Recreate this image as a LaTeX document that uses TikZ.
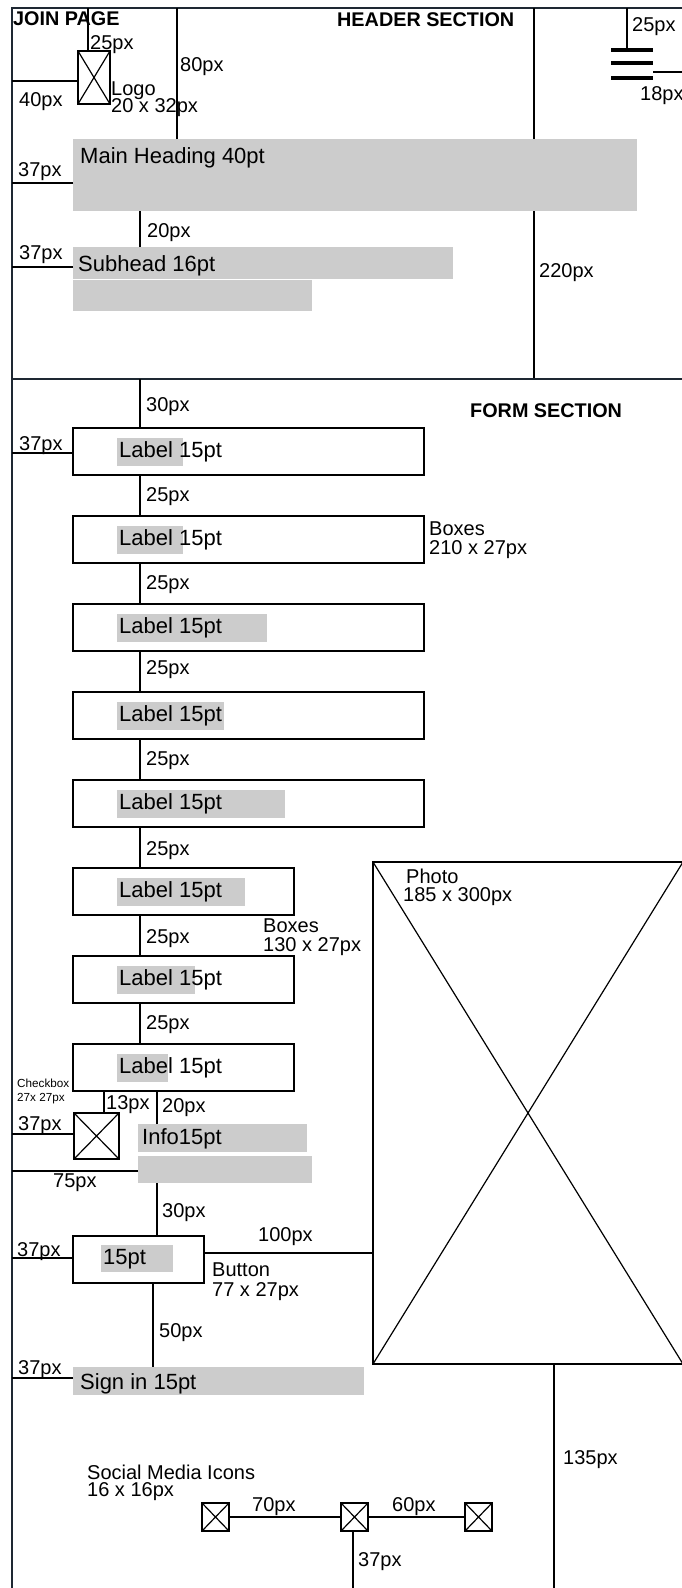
\documentclass[tikz,border=0pt]{standalone}
\usepackage{fontspec}
\setmainfont{Liberation Sans}
\definecolor{framecol}{HTML}{1E2832}
\definecolor{greyc}{HTML}{CCCCCC}
\tikzset{
 frameline/.style={draw=framecol, line width=2.5pt},
 dim/.style={draw=black, line width=1.4pt},
 boxst/.style={draw=black, line width=1.8pt, rectangle, inner sep=0pt, outer sep=0pt, anchor=north west},
 greybox/.style={fill=greyc, draw=none, rectangle, inner sep=0pt, outer sep=0pt, anchor=north west},
 dt/.style={inner sep=0pt, anchor=base west, font=\fontsize{20}{24}\selectfont},
 lt/.style={inner sep=0pt, anchor=base west, font=\fontsize{22}{26}\selectfont},
 ht/.style={inner sep=0pt, anchor=base west, font=\fontsize{19.8}{24}\selectfont\bfseries},
 st/.style={inner sep=0pt, anchor=base west, font=\fontsize{11.7}{14}\selectfont},
 xbox/.style={boxst, path picture={\draw[line width=1.2pt] (path picture bounding box.north west) -- (path picture bounding box.south east) (path picture bounding box.north east) -- (path picture bounding box.south west);}},
 hamb/.style={draw=black, line width=3.5pt},
}
\begin{document}
\begin{tikzpicture}[x=1pt,y=-1pt]
\useasboundingbox (0,0) rectangle (682,1588);
\fill[white] (0,0) rectangle (682,1588);
% frame
\coordinate (TL) at (12,8);
\coordinate (BL) at (12,1590);
\coordinate (TR) at (684,8);
\draw[frameline] (BL) -- (TL) -- (TR);
\coordinate (SL) at (12,379);
\coordinate (SR) at (684,379);
% ---------------- HEADER ----------------
\node[ht] (join) at (13,25) {JOIN PAGE};
\node[ht] (hsec) at (337,26) {HEADER SECTION};
% line behind main heading
\coordinate (v534t) at (534,8);
\coordinate (v534b) at (534,379);
\draw[dim] (v534t) -- (v534b);
\node[dt] (d220) at (539,277) {220px};
% logo
\node[xbox, minimum width=32pt, minimum height=53pt] (logo) at (78,51) {};
\coordinate (lg1) at ([xshift=10pt]logo.north west);
\draw[dim] (lg1) -- (lg1 |- TL);
\node[dt] (d25a) at (90,49) {25px};
\coordinate (lg2) at ([yshift=-30pt]logo.north west);
\draw[dim] (lg2) -- (lg2 -| TL);
\node[dt] (d40) at (19,106) {40px};
\node[dt] (logot) at (111,95) {Logo};
\node[dt] (logos) at (111,112) {20 x 32px};
% main heading
\node[greybox, minimum width=564pt, minimum height=72pt] (mh) at (73,139) {};
\coordinate (mh1) at ([xshift=104pt]mh.north west);
\draw[dim] (mh1) -- (mh1 |- TL);
\node[dt] (d80) at (180,71) {80px};
\node[lt] (mht) at (80,163) {Main Heading 40pt};
\coordinate (mh2) at ([yshift=-44pt]mh.north west);
\draw[dim] (mh2) -- (mh2 -| TL);
\node[dt] (d37a) at (18,176) {37px};
% subhead
\node[greybox, minimum width=380pt, minimum height=32pt] (sh) at (73,247) {};
\node[greybox, minimum width=239pt, minimum height=31pt] (sh2) at (73,280) {};
\coordinate (sh1) at ([xshift=67pt]sh.north west);
\draw[dim] (sh1) -- (sh1 |- mh.south);
\node[dt] (d20a) at (147,237) {20px};
\node[lt] (sht) at (78,271) {Subhead 16pt};
\coordinate (sh3) at ([yshift=-20pt]sh.north west);
\draw[dim] (sh3) -- (sh3 -| TL);
\node[dt] (d37b) at (19,259) {37px};
% hamburger
\draw[hamb] (611,50) coordinate (hb1) -- (653,50);
\draw[hamb] (611,63) coordinate (hb2) -- (653,63);
\draw[hamb] (611,78) coordinate (hb3) -- (653,78) coordinate (hb4);
\coordinate (hbt) at (627,50);
\draw[dim] (hbt) -- (hbt |- TL);
\node[dt] (d25b) at (632,31) {25px};
\coordinate (hbr) at (653,72);
\coordinate (hbe) at (684,72);
\draw[dim] (hbr) -- (hbe);
\node[dt] (d18) at (640,100) {18px};
% section divider
\draw[frameline] (SL) -- (SR);
% ---------------- FORM ----------------
\node[ht] (fsec) at (470,417) {FORM SECTION};
\foreach \i/\w/\gw in {1/351/66, 2/351/66, 3/351/150, 4/351/107, 5/351/168, 6/221/128, 7/221/78, 8/221/51} {
  \pgfmathsetmacro\yy{428+88*(\i-1)}
  \node[boxst, minimum width=\w pt, minimum height=47pt] (b\i) at (73,\yy) {};
  \node[greybox, minimum width=\gw pt, minimum height=28pt] (g\i) at (117,{\yy+10}) {};
  \node[lt] (l\i) at (119,{\yy+29}) {Label 15pt};
}
\coordinate (b0) at (140,379);
\draw[dim] (b0) -- ([xshift=67pt]b1.north west);
\node[dt] (d30a) at (146,411) {30px};
\coordinate (b1l) at ([yshift=-25pt]b1.north west);
\draw[dim] (b1l) -- (b1l -| TL);
\node[dt] (d37c) at (19,450) {37px};
\foreach \i/\j/\o in {1/2/26, 2/3/26, 3/4/23, 4/5/26, 5/6/28, 6/7/28, 7/8/26} {
  \draw[dim] ([xshift=67pt]b\i.south west) -- ([xshift=67pt]b\j.north west);
  \node[dt] (gap\i) at ([xshift=73pt, yshift=-\o pt]b\i.south west) {25px};
}
\node[dt] (bx1) at (429,535) {Boxes};
\node[dt] (bx1s) at (429,554) {210 x 27px};
\node[dt] (bx2) at (263,932) {Boxes};
\node[dt] (bx2s) at (263,951) {130 x 27px};
% photo
\node[xbox, minimum width=310pt, minimum height=502pt] (photo) at (373,862) {};
\node[dt] (pht) at (406,883) {Photo};
\node[dt] (phs) at (403,901) {185 x 300px};
% checkbox
\node[st] (cbt) at (17,1087) {Checkbox};
\node[st] (cbs) at (17,1101) {27x 27px};
\node[xbox, minimum width=45pt, minimum height=46pt] (cb) at (74,1113) {};
\coordinate (cb1) at ([xshift=30pt]cb.north west);
\draw[dim] (cb1) -- (cb1 |- b8.south);
\node[dt] (d13) at (106,1109) {13px};
\coordinate (cb2) at ([yshift=-21pt]cb.north west);
\draw[dim] (cb2) -- (cb2 -| TL);
\node[dt] (d37d) at (18,1130) {37px};
% info
\node[greybox, minimum width=169pt, minimum height=28pt] (info) at (138,1124) {};
\node[greybox, minimum width=174pt, minimum height=27pt] (info2) at (138,1156) {};
\node[lt] (infot) at (142,1144) {Info15pt};
\coordinate (in1) at ([xshift=19pt]info.north west);
\draw[dim] (in1) -- (in1 |- b8.south);
\node[dt] (d20b) at (162,1112) {20px};
\coordinate (in2) at ([yshift=-15pt]info2.north west);
\draw[dim] (in2) -- (in2 -| TL);
\node[dt] (d75) at (53,1187) {75px};
% button
\node[boxst, minimum width=131pt, minimum height=47pt] (btn) at (73,1236) {};
\node[greybox, minimum width=72pt, minimum height=27pt] (btng) at (101,1245) {};
\node[lt] (btnt) at (103,1264) {15pt};
\coordinate (in3) at ([xshift=19pt]info2.south west);
\draw[dim] (in3) -- (in3 |- btn.north);
\node[dt] (d30b) at (162,1217) {30px};
\coordinate (bt1) at ([yshift=-17pt]btn.north east);
\draw[dim] (bt1) -- (bt1 -| photo.west);
\node[dt] (d100) at (258,1241) {100px};
\coordinate (bt2) at ([yshift=-22pt]btn.north west);
\draw[dim] (bt2) -- (bt2 -| TL);
\node[dt] (d37e) at (17,1256) {37px};
\node[dt] (btnl) at (212,1276) {Button};
\node[dt] (btns) at (212,1296) {77 x 27px};
% sign in
\node[greybox, minimum width=291pt, minimum height=28pt] (sign) at (73,1367) {};
\node[lt] (signt) at (80,1389) {Sign in 15pt};
\coordinate (bt3) at ([xshift=80pt]btn.south west);
\draw[dim] (bt3) -- (bt3 |- sign.north);
\node[dt] (d50) at (159,1337) {50px};
\coordinate (sg1) at ([yshift=-11pt]sign.north west);
\draw[dim] (sg1) -- (sg1 -| TL);
\node[dt] (d37f) at (18,1374) {37px};
% photo bottom line
\coordinate (ph1) at ([xshift=181pt]photo.south west);
\draw[dim] (ph1) -- (ph1 |- BL);
\node[dt] (d135) at (563,1464) {135px};
% social
\node[dt] (smt) at (87,1479) {Social Media Icons};
\node[dt] (sms) at (87,1496) {16 x 16px};
\node[xbox, minimum width=27pt, minimum height=28pt] (ic1) at (202,1503) {};
\node[xbox, minimum width=27pt, minimum height=28pt] (ic2) at (341,1503) {};
\node[xbox, minimum width=27pt, minimum height=28pt] (ic3) at (465,1503) {};
\draw[dim] (ic1.east) -- (ic2.west);
\draw[dim] (ic2.east) -- (ic3.west);
\node[dt] (d70) at (252,1511) {70px};
\node[dt] (d60) at (392,1511) {60px};
\coordinate (ic2b) at ([xshift=-1.5pt]ic2.south);
\draw[dim] (ic2b) -- (ic2b |- BL);
\node[dt] (d37g) at (358,1566) {37px};
\end{tikzpicture}
\end{document}
